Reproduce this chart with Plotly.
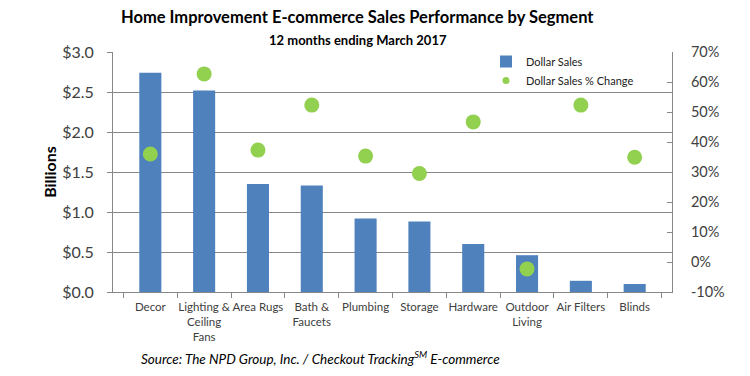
import plotly.graph_objects as go

categories = ["Decor", "Lighting &<br>Ceiling<br>Fans", "Area Rugs", "Bath &<br>Faucets", "Plumbing",
              "Storage", "Hardware", "Outdoor<br>Living", "Air Filters", "Blinds"]
dollar_sales = [2.74, 2.52, 1.35, 1.33, 0.92, 0.88, 0.60, 0.46, 0.14, 0.10]
pct_change = [36.0, 62.7, 37.3, 52.3, 35.3, 29.5, 46.7, -2.3, 52.3, 34.9]
left_ticks = [0, 0.5, 1.0, 1.5, 2.0, 2.5, 3.0]
left_labels = ["$0.0", "$0.5", "$1.0", "$1.5", "$2.0", "$2.5", "$3.0"]
right_ticks = [-10, 0, 10, 20, 30, 40, 50, 60, 70]
right_labels = ["-10%", "0%", "10%", "20%", "30%", "40%", "50%", "60%", "70%"]

FONT = "Lato"
TXT = "#404040"
AX = "#878787"
BLUE = "#4F81BD"
GREEN = "#92D050"

# page body has an 8px margin; plot area target: x 113..672, y 52..292 in the window
fig = go.Figure()
fig.add_trace(go.Bar(x=categories, y=dollar_sales, name="Dollar Sales",
                     marker=dict(color=BLUE, line=dict(width=0)), width=0.41))
fig.add_trace(go.Scatter(x=categories, y=pct_change, name="Dollar Sales % Change", yaxis="y2",
                         mode="markers", showlegend=False,
                         marker=dict(color=GREEN, size=15, line=dict(width=0))))
# legend-only entry with a small dot, as in the reference legend
fig.add_trace(go.Scatter(x=[categories[0]], y=[None], name="Dollar Sales % Change", yaxis="y2",
                         mode="markers", marker=dict(color=GREEN, size=7, line=dict(width=0))))

fig.update_layout(
    width=750, height=376,
    margin=dict(l=105, r=86, t=44, b=92, autoexpand=False),
    paper_bgcolor="white", plot_bgcolor="white",
    font=dict(family=FONT, color=TXT),
    showlegend=True,
    legend=dict(x=(486 - 113) / 559, y=1 + 5 / 240, xanchor="left", yanchor="top",
                bgcolor="rgba(0,0,0,0)",
                font=dict(size=11, color="#202020", family=FONT), tracegroupgap=0,
                itemsizing="trace", itemwidth=30),
    bargap=0.59,
    xaxis=dict(showline=True, linecolor=AX, linewidth=1, ticks="outside", ticklen=5, tickcolor=AX,
               tickson="boundaries", tickangle=0, automargin=False, ticklabelstandoff=4,
               tickfont=dict(size=11.5, color=TXT), showgrid=False),
    yaxis=dict(range=[0, 3.0], tickvals=left_ticks, ticktext=left_labels, showgrid=True, gridcolor=AX,
               gridwidth=1, showline=True, linecolor=AX, ticks="outside", ticklen=5, tickcolor=AX,
               tickfont=dict(size=16, color=TXT), zeroline=False, automargin=False,
               ticklabelstandoff=10,
               title=dict(text="<b>Billions</b>", font=dict(size=16, color="#000000"), standoff=1)),
    yaxis2=dict(range=[-10, 70], tickvals=right_ticks, ticktext=right_labels, overlaying="y",
                side="right", showgrid=False, showline=True, linecolor=AX, ticks="inside", ticklen=5,
                tickcolor=AX, tickfont=dict(size=14.5, color=TXT), zeroline=False, automargin=False,
                ticklabelstandoff=15),
)

fig.add_annotation(text="<b>Home Improvement E-commerce Sales Performance by Segment</b>",
                   xref="paper", yref="paper", x=(357 - 113) / 559, y=(292 - 17.5) / 240,
                   xanchor="center", yanchor="middle", showarrow=False,
                   font=dict(size=16.5, color="#000000", family=FONT))
fig.add_annotation(text="<b>12 months ending March 2017</b>",
                   xref="paper", yref="paper", x=(358 - 113) / 559, y=(292 - 40) / 240,
                   xanchor="center", yanchor="middle", showarrow=False,
                   font=dict(size=13, color="#000000", family=FONT))
fig.add_annotation(text="<i>Source: The NPD Group, Inc. / Checkout Tracking<sup>SM</sup> E-commerce</i>",
                   xref="paper", yref="paper", x=(320 - 113) / 559, y=(292 - 358) / 240,
                   xanchor="center", yanchor="middle", showarrow=False,
                   font=dict(size=13.5, color="#000000", family=FONT))

fig.write_html("out.html")
